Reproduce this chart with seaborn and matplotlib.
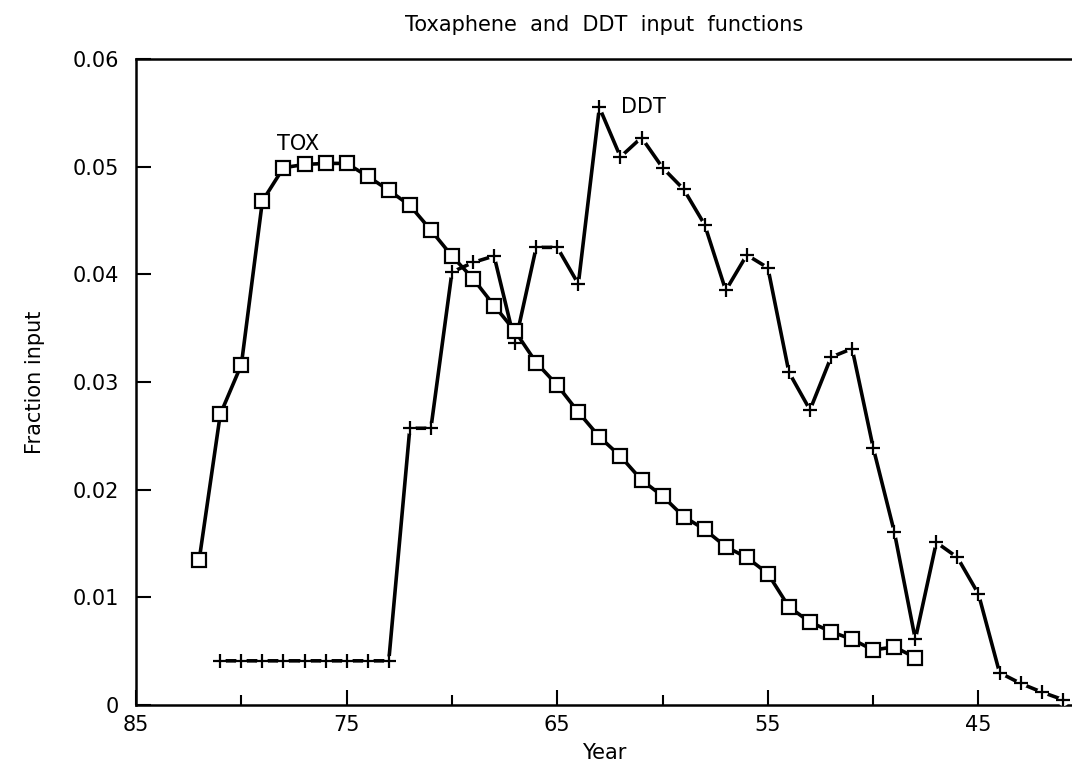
import numpy as np
import pandas as pd
import matplotlib
matplotlib.use("Agg")
import matplotlib.pyplot as plt
import seaborn as sns

# Toxaphene input function (years 82 .. 48)
tox_years = list(range(82, 47, -1))
tox_values = [0.0135, 0.0270, 0.0316, 0.0468, 0.0499, 0.0502, 0.0503, 0.0503,
              0.0491, 0.0478, 0.0464, 0.0441, 0.0417, 0.0396, 0.0371, 0.0347,
              0.0318, 0.0297, 0.0272, 0.0249, 0.0231, 0.0209, 0.0194, 0.0175,
              0.0163, 0.0147, 0.0137, 0.0122, 0.0091, 0.0077, 0.0068, 0.0061,
              0.0051, 0.0054, 0.0044]

# DDT input function (years 81 .. 41)
ddt_years = list(range(81, 40, -1))
ddt_values = [0.0041, 0.0041, 0.0041, 0.0041, 0.0041, 0.0041, 0.0041, 0.0041,
              0.0041, 0.0257, 0.0257, 0.0402, 0.0411, 0.0417, 0.0336, 0.0425,
              0.0425, 0.0391, 0.0555, 0.0509, 0.0527, 0.0499, 0.0479, 0.0446,
              0.0385, 0.0418, 0.0406, 0.0309, 0.0274, 0.0323, 0.0331, 0.0239,
              0.0161, 0.0061, 0.0151, 0.0137, 0.0103, 0.0030, 0.0020, 0.0012,
              0.0005]

x_major = [85, 75, 65, 55, 45]
x_minor = [80, 70, 60, 50]
y_ticks = [0, 0.01, 0.02, 0.03, 0.04, 0.05, 0.06]
y_labels = ["0", "0.01", "0.02", "0.03", "0.04", "0.05", "0.06"]

tox_df = pd.DataFrame({"year": tox_years, "value": tox_values})
ddt_df = pd.DataFrame({"year": ddt_years, "value": ddt_values})

sns.set_style("white")
plt.rcParams["font.family"] = ["DejaVu Sans"]
plt.rcParams["text.color"] = "black"
plt.rcParams["axes.labelcolor"] = "black"
plt.rcParams["xtick.color"] = "black"
plt.rcParams["ytick.color"] = "black"

fig = plt.figure(figsize=(10.72, 7.84), dpi=100)
ax = fig.add_axes([0.1269, 0.1008, 0.8731, 0.8240])

# DDT: thick line broken around each "+" marker
sns.lineplot(data=ddt_df, x="year", y="value", ax=ax, color="black",
             linewidth=2.6, sort=False, zorder=2)
ax.plot(ddt_df["year"], ddt_df["value"], linestyle="none", marker="o",
        markersize=8, markerfacecolor="white", markeredgecolor="none", zorder=3)
ax.plot(ddt_df["year"], ddt_df["value"], linestyle="none", marker="+",
        markersize=10, markeredgewidth=1.6, color="black", zorder=4)

# Toxaphene: solid line with open squares
sns.lineplot(data=tox_df, x="year", y="value", ax=ax, color="black",
             linewidth=2.6, sort=False, marker="s", markersize=10,
             markerfacecolor="white", markeredgecolor="black",
             markeredgewidth=1.6, zorder=5)

ax.text(77.3, 0.0521, "TOX", ha="center", va="center", fontsize=15)
ax.text(60.9, 0.0555, "DDT", ha="center", va="center", fontsize=15)

ax.set_xlim(85, 40.56)
ax.set_ylim(0, 0.06)
ax.set_xticks(x_major)
ax.set_xticks(x_minor, minor=True)
ax.set_yticks(y_ticks)
ax.set_yticklabels(y_labels)
ax.tick_params(axis="x", which="major", direction="in", length=11, width=1.5,
               labelsize=15, pad=7, bottom=True)
ax.tick_params(axis="x", which="minor", direction="in", length=7, width=1.5,
               bottom=True)
ax.tick_params(axis="y", direction="in", length=11, width=1.5, labelsize=15,
               pad=12, left=True)

for side in ["left", "bottom", "top"]:
    ax.spines[side].set_linewidth(1.8)
    ax.spines[side].set_color("black")
ax.spines["right"].set_visible(False)

ax.set_xlabel("Year", fontsize=15, labelpad=6)
ax.set_ylabel("Fraction input", fontsize=15, labelpad=20)
ax.set_title("Toxaphene  and  DDT  input  functions", fontsize=15, pad=20)

fig.savefig("out.png", dpi=100)
